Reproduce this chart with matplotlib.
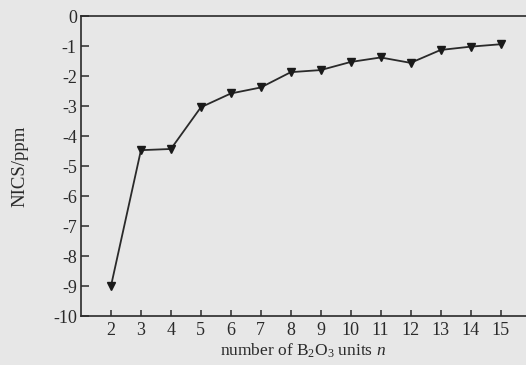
import matplotlib
matplotlib.use("Agg")
import matplotlib.pyplot as plt

n_units = [2, 3, 4, 5, 6, 7, 8, 9, 10, 11, 12, 13, 14, 15]
nics = [-9.0, -4.47, -4.43, -3.04, -2.58, -2.38, -1.87, -1.80, -1.53, -1.38, -1.56, -1.13, -1.02, -0.94]
y_ticks = [0, -1, -2, -3, -4, -5, -6, -7, -8, -9, -10]

plt.rcParams['font.family'] = ['Liberation Serif', 'DejaVu Serif']
plt.rcParams['mathtext.fontset'] = 'custom'
plt.rcParams['mathtext.rm'] = 'Liberation Serif'
plt.rcParams['mathtext.it'] = 'Liberation Serif:italic'

bg = '#e7e7e7'
fig = plt.figure(figsize=(5.26, 3.65), dpi=100, facecolor=bg)
ax = fig.add_axes([0.154, 0.134, 0.846, 0.822], facecolor=bg)

ax.plot(n_units, nics, color='#2a2a2a', lw=1.3, marker='v', ms=6,
        markerfacecolor='#1a1a1a', markeredgecolor='#1a1a1a')

ax.set_xlim(1, 15.85)
ax.set_ylim(-10, 0)
ax.set_xticks(n_units)
ax.set_yticks(y_ticks)
ax.set_yticklabels([str(v) for v in y_ticks])

for s in ['left', 'bottom', 'top']:
    ax.spines[s].set_color('#2a2a2a')
    ax.spines[s].set_linewidth(1.2)
ax.spines['right'].set_visible(False)

ax.tick_params(axis='y', direction='in', length=6, width=1.1, colors='#2a2a2a',
               labelsize=13, pad=3)
ax.tick_params(axis='x', direction='in', length=4, width=1.1, colors='#2a2a2a',
               labelsize=13, pad=4)

ax.set_ylabel('NICS/ppm', fontsize=13.5, color='#2a2a2a', labelpad=18)
ax.set_xlabel('number of B$_2$O$_3$ units $n$', fontsize=12.5, color='#2a2a2a', labelpad=2)

fig.savefig('out.png', dpi=100, facecolor=bg)
